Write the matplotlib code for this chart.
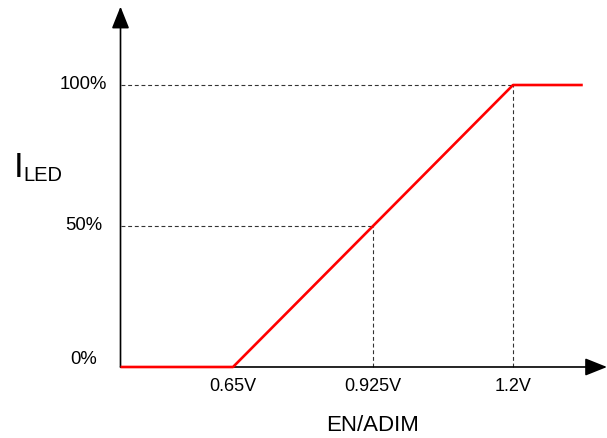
import matplotlib.pyplot as plt

plt.rcParams['font.family'] = ['Liberation Sans', 'DejaVu Sans']

# curve breakpoints (EN/ADIM volts, ILED percent)
v_points = [0.429, 0.65, 1.2, 1.337]
i_points = [0, 0, 100, 100]

# marked ticks
x_ticks = [0.65, 0.925, 1.2]
x_labels = ["0.65V", "0.925V", "1.2V"]
y_ticks = [0, 50, 100]
y_labels = ["0%", "50%", "100%"]

# guide lines: (volts, percent)
guides = [(0.925, 50), (1.2, 100)]

x0 = 0.429
fig = plt.figure(figsize=(6.07, 4.39), dpi=100)
ax = fig.add_axes([0, 0, 1, 1])
ax.set_xlim(0.1923, 1.3846)
ax.set_ylim(-25.18, 130.5)
ax.axis("off")

# axes with arrows
arrow = dict(arrowstyle="-|>,head_length=0.75,head_width=0.3", color="black",
             lw=1.2, mutation_scale=18, shrinkA=0, shrinkB=0)
ax.annotate("", xy=(1.3846, 0), xytext=(x0, 0), arrowprops=arrow)
ax.annotate("", xy=(x0, 127.8), xytext=(x0, 0), arrowprops=arrow)

# dashed guides
for gv, gi in guides:
    ax.plot([x0, gv], [gi, gi], color="#333333", lw=0.8, dashes=(3.5, 2.5))
    ax.plot([gv, gv], [0, gi], color="#333333", lw=0.8, dashes=(3.5, 2.5))

ax.plot(v_points, i_points, color="#ff0000", lw=1.9, solid_capstyle="butt", zorder=5)

for v, lab in zip(x_ticks, x_labels):
    ax.text(v, -6.4, lab, ha="center", va="center", fontsize=13)

y_offsets = [3, 0.7, 0.5]
y_right = [0.383, 0.393, 0.403]
for yv, lab, off, xr in zip(y_ticks, y_labels, y_offsets, y_right):
    ax.text(xr, yv + off, lab, ha="right", va="center", fontsize=13.3)

ax.text(0.925, -20.5, "EN/ADIM", ha="center", va="center", fontsize=16)

fig.text(14 / 607, 1 - 177 / 439, "I", fontsize=25, ha="left", va="baseline")
fig.text(23 / 607, 1 - 181 / 439, "LED", fontsize=14.5, ha="left", va="baseline")

fig.savefig("out.png", dpi=100)
